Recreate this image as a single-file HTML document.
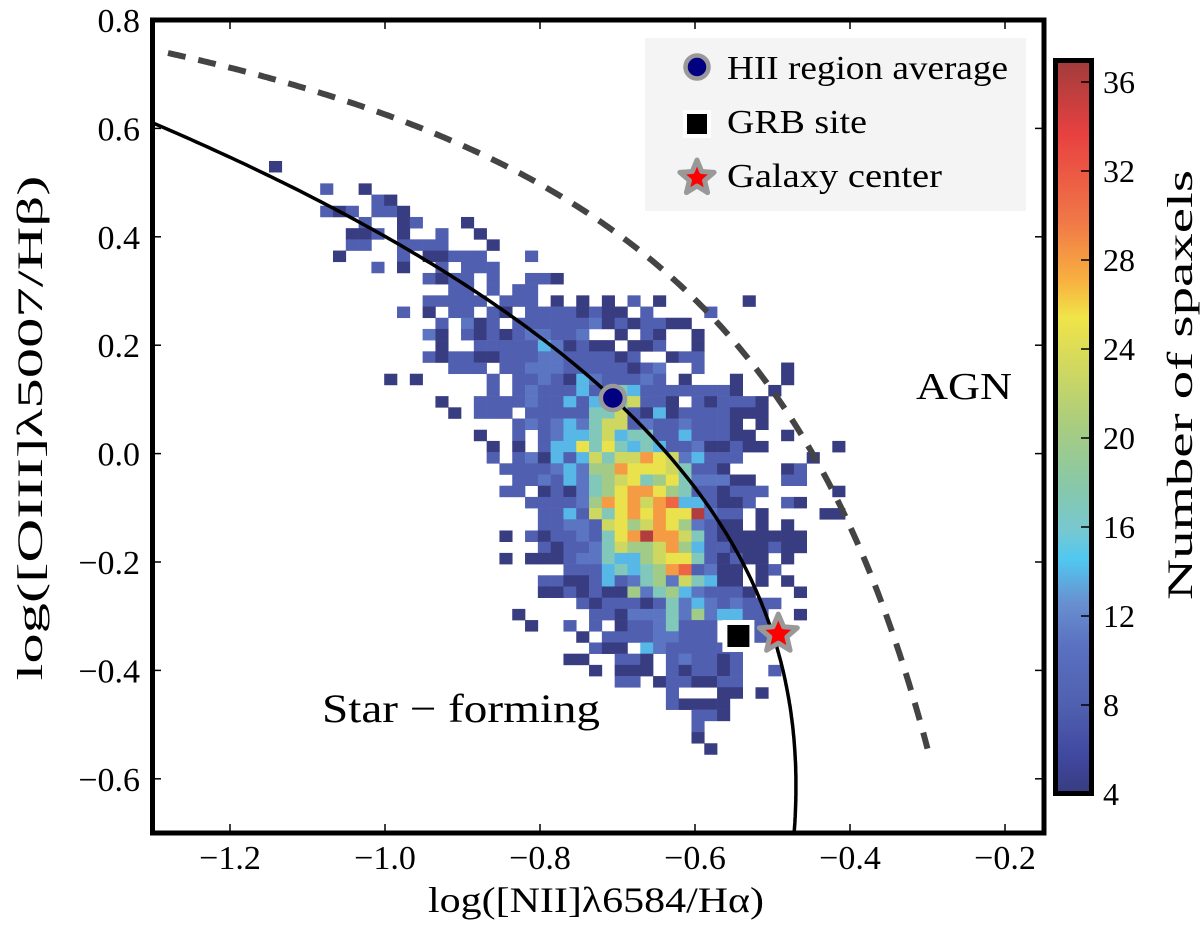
<!DOCTYPE html>
<html><head><meta charset="utf-8"><style>
html,body{margin:0;padding:0;background:#fff;}
svg{display:block;font-family:"Liberation Serif",serif;}
</style></head><body>
<svg id="chart" width="1200" height="934" viewBox="0 0 1200 934" xmlns="http://www.w3.org/2000/svg">
<defs>
<clipPath id="plotclip"><rect x="152.5" y="20" width="891.5" height="813"/></clipPath>
<linearGradient id="cbgrad" x1="0" y1="1" x2="0" y2="0"></linearGradient>
</defs>
<g id="heat" clip-path="url(#plotclip)"></g>
<g id="curves" clip-path="url(#plotclip)"></g>
<g id="markers"></g>
<rect x="152.5" y="20" width="891.5" height="813" fill="none" stroke="#000" stroke-width="5"/>
<g id="ticks"></g>
<g>
  <rect x="645" y="38" width="381" height="173" fill="#f4f4f4"/>
  <circle cx="697" cy="67" r="11.5" fill="#000080" stroke="#999" stroke-width="4.5"/>
  <text x="727" y="79" font-size="34" textLength="281" lengthAdjust="spacingAndGlyphs">HII region average</text>
  <rect x="683" y="110" width="28" height="28" fill="#fff"/>
  <rect x="687" y="114" width="20" height="20" fill="#000"/>
  <text x="727" y="133" font-size="34" textLength="140" lengthAdjust="spacingAndGlyphs">GRB site</text>
  <polygon id="legstar" fill="#ff0000" stroke="#999" stroke-width="5" stroke-linejoin="round"/>
  <text x="727" y="187" font-size="34" textLength="215" lengthAdjust="spacingAndGlyphs">Galaxy center</text>
</g>
<text x="916" y="399" font-size="38" textLength="96" lengthAdjust="spacingAndGlyphs">AGN</text>
<text x="322" y="722" font-size="40" textLength="278" lengthAdjust="spacingAndGlyphs">Star − forming</text>
<text x="596" y="912" font-size="36" text-anchor="middle" textLength="336" lengthAdjust="spacingAndGlyphs">log([NII]λ6584/Hα)</text>
<text transform="translate(42,428) rotate(-90)" font-size="36" text-anchor="middle" textLength="505" lengthAdjust="spacingAndGlyphs">log([OIII]λ5007/Hβ)</text>
<g id="cbar">
  <rect x="1055.5" y="60.5" width="36" height="733" fill="url(#cbgrad)" stroke="#000" stroke-width="5"/>
</g>
<text transform="translate(1192,385) rotate(-90)" font-size="36" text-anchor="middle" textLength="430" lengthAdjust="spacingAndGlyphs">Number of spaxels</text>
</svg>
<script>
// ---- data ----
const xTicks = [-1.2, -1.0, -0.8, -0.6, -0.4, -0.2];
const xTickLabels = ["−1.2", "−1.0", "−0.8", "−0.6", "−0.4", "−0.2"];
const yTicks = [0.8, 0.6, 0.4, 0.2, 0.0, -0.2, -0.4, -0.6];
const yTickLabels = ["0.8", "0.6", "0.4", "0.2", "0.0", "−0.2", "−0.4", "−0.6"];
const cbTicks = [4, 8, 12, 16, 20, 24, 28, 32, 36];
const binX0 = -1.1497, binW = 0.01652, binY0 = 0.5399, binH = 0.02066;
const levelCounts = {"1":4,"2":8,"3":11,"4":14,"5":17,"6":20,"7":23,"8":25,"9":28,"a":31,"b":34,"c":36};
const rowStart = [0,0,4,8,4,7,6,6,5,8,12,14,12,10,13,12,13,12,14,9,17,13,14,19,16,17,17,18,19,18,20,21,21,18,21,18,23,21,21,24,19,20,24,25,23,25,27,31,31,33,33,33,34];
const rowCells = [
"1","","2..1","21","212.221","2..12...1","112.1..2..1","22..2222...1","1....2.11222...2","2.1..2.222",
"2122.2..221","22.2.22","22222.222.1.1.1.2.1......1","2.1.22.21.22221211.2....2","2.312.22222231212211",
"31.2121233223..1.21..1","1..22222431211.112..1","21221122233222212..122","222.2233322222123..2......1",
"1.1.....2.223214322232.1...1...1","2.232224225422222221..1","1..2222322424557221.212221",
"1.222.2222255721412222111","232343577232232221.1","1..2.23445745522422211..1",
"1.1.244858545422311211.....1","2.231424757798734222.....1","222234366988875221....12",
"2232435678568533311..22","22.121356899865221222.....1","22223698979a442112..21",
"224275898988c322.1....11","2233278679863211.1.1","1.212232589c997521111111",
"212235766796422111211","1.1112335446788521211.1","222454569a2311.12","2211242356375411.1.1",
"11212116356432221...1","2122212534323222","1.....22133353634422..1","1..2.2.12235222.222",
"1.222233222.222","211.43222222","11..221.232212","1.111.212212..2","22.1221122","2...11.1",
"21111","221","2","1","1"];
const hiiPoint = [-0.706, 0.1026];
const grbPoint = [-0.544, -0.3365];
const galaxyPoint = [-0.4925, -0.333];
const solidCoef = [-0.6359, -0.6112, -0.6683, -0.185]; // x as cubic in y
const dashCoef = [0.53, -0.013, 1.149]; // y = A/(x+B)+C
const vmin = 4.13, vmax = 36.85;
// ---- scales ----
const sx = v => 152.5 + (v + 1.3) * 775;
const sy = v => 20 + (0.8 - v) * 542;
const cbY = v => 794 - (v - 4) * 22.25;
const NS = "http://www.w3.org/2000/svg";
function mk(tag, attrs, parent){const e=document.createElementNS(NS,tag);for(const k in attrs)e.setAttribute(k,attrs[k]);parent.appendChild(e);return e;}
const stops = [[0,"#383c80"],[0.05,"#4048a0"],[0.12,"#5060b0"],[0.2,"#5a70c0"],[0.26,"#6890d0"],[0.32,"#50c8f0"],[0.36,"#78c8d0"],[0.42,"#88c8a8"],[0.5,"#a8cc80"],[0.58,"#d0d860"],[0.65,"#f0e448"],[0.7,"#f8b040"],[0.78,"#f07848"],[0.9,"#e84040"],[1,"#a03c3c"]];
function hex2(h){return [1,3,5].map(i=>parseInt(h.substr(i,2),16));}
function cmap(v){let t=(v-vmin)/(vmax-vmin);t=Math.max(0,Math.min(1,t));
 for(let i=1;i<stops.length;i++){if(t<=stops[i][0]){const a=hex2(stops[i-1][1]),b=hex2(stops[i][1]);const f=(t-stops[i-1][0])/(stops[i][0]-stops[i-1][0]);return "rgb("+a.map((x,j)=>Math.round(x+(b[j]-x)*f)).join(",")+")";}}
 return stops[stops.length-1][1];}
// gradient
const grad=document.getElementById("cbgrad");
stops.forEach(s=>{mk("stop",{offset:s[0],"stop-color":s[1]},grad);});
// heatmap
const heat=document.getElementById("heat");
rowCells.forEach((row,r)=>{
 for(let i=0;i<row.length;i++){const ch=row[i];if(!(ch in levelCounts))continue;
  const c=rowStart[r]+i;const x0=binX0+c*binW, x1=x0+binW, yT=binY0-r*binH, yB=yT-binH;
  const rect=mk("rect",{x:sx(x0),y:sy(yT),width:sx(x1)-sx(x0)+0.3,height:sy(yB)-sy(yT)+0.3,fill:cmap(levelCounts[ch])},heat);
  
  
 }});
// curves
const curves=document.getElementById("curves");
let pts=[];for(let y=0.66;y>=-0.73;y-=0.005){const x=solidCoef[0]+solidCoef[1]*y+solidCoef[2]*y*y+solidCoef[3]*y*y*y;pts.push(sx(x).toFixed(1)+","+sy(y).toFixed(1));}
const solid=mk("polyline",{points:pts.join(" "),fill:"none",stroke:"#000","stroke-width":3.5},curves);


pts=[];for(let x=-1.28;x<=-0.2997;x+=0.004){const y=dashCoef[0]/(x+dashCoef[1])+dashCoef[2];pts.push(sx(x).toFixed(1)+","+sy(y).toFixed(1));}
const dash=mk("polyline",{points:pts.join(" "),fill:"none",stroke:"#444","stroke-width":6,"stroke-dasharray":"18 13"},curves);


// markers
const mg=document.getElementById("markers");
const hc=mk("circle",{cx:sx(hiiPoint[0]),cy:sy(hiiPoint[1]),r:12,fill:"#000080",stroke:"#999","stroke-width":4.5},mg);


const gb=mk("rect",{x:sx(grbPoint[0])-16,y:sy(grbPoint[1])-16,width:32,height:32,fill:"#fff"},mg);


const gs=mk("rect",{x:sx(grbPoint[0])-11,y:sy(grbPoint[1])-11,width:22,height:22,fill:"#000"},mg);


function starPts(cx,cy,R,r){const p=[];for(let i=0;i<10;i++){const a=-Math.PI/2+i*Math.PI/5;const rr=i%2?r:R;p.push((cx+rr*Math.cos(a)).toFixed(1)+","+(cy+rr*Math.sin(a)).toFixed(1));}return p.join(" ");}
const st=mk("polygon",{points:starPts(sx(galaxyPoint[0]),sy(galaxyPoint[1]),20,9),fill:"#ff0000",stroke:"#999","stroke-width":5,"stroke-linejoin":"round"},mg);


document.getElementById("legstar").setAttribute("points",starPts(697,178,18,8));
// ticks
const tg=document.getElementById("ticks");
xTicks.forEach((v,i)=>{const x=sx(v);
 const t1=mk("line",{x1:x,y1:833,x2:x,y2:824,stroke:"#000","stroke-width":1.5},tg);
 
 
 const t2=mk("line",{x1:x,y1:20,x2:x,y2:29,stroke:"#000","stroke-width":1.5},tg);
 
 
 const lb=mk("text",{x:x,y:869,"font-size":34,"text-anchor":"middle"},tg);lb.textContent=xTickLabels[i];
 
 
});
yTicks.forEach((v,i)=>{const y=sy(v);
 const t1=mk("line",{x1:152.5,y1:y,x2:161,y2:y,stroke:"#000","stroke-width":1.5},tg);
 
 
 const t2=mk("line",{x1:1044,y1:y,x2:1035,y2:y,stroke:"#000","stroke-width":1.5},tg);
 
 
 const lb=mk("text",{x:140,y:y+12,"font-size":34,"text-anchor":"end"},tg);lb.textContent=yTickLabels[i];
 
 
});
const cb=document.getElementById("cbar");
cbTicks.forEach(v=>{const y=cbY(v);
 const t=mk("line",{x1:1089,y1:y,x2:1081,y2:y,stroke:"#000","stroke-width":1.5},cb);
 
 
 const lb=mk("text",{x:1103,y:y+11,"font-size":32},cb);lb.textContent=String(v);
 
 
});
</script>
</body></html>
